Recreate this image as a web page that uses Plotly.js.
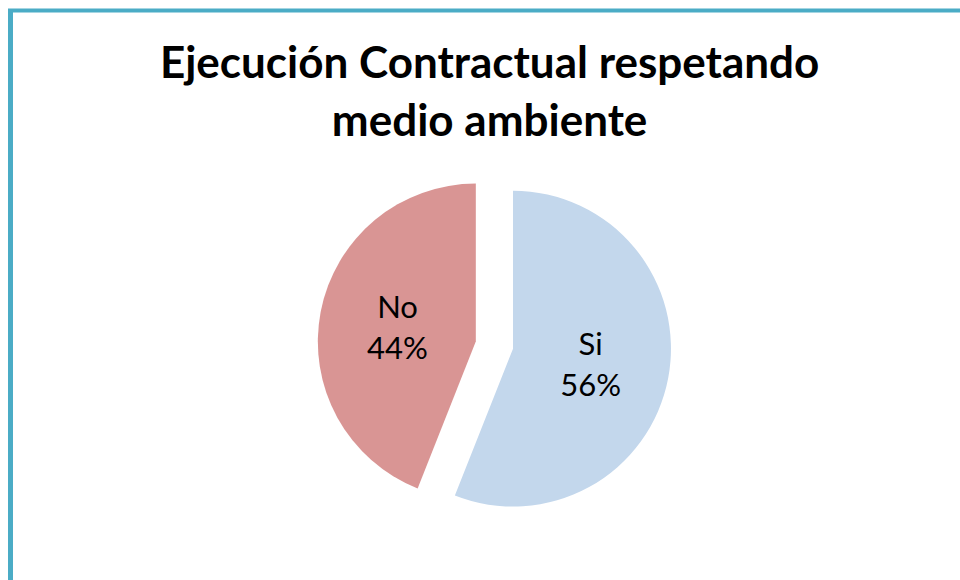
<!DOCTYPE html>
<html>
<head>
<meta charset="utf-8">
<script src="https://cdn.plot.ly/plotly-3.0.1.min.js"></script>
<style>html,body{margin:0;padding:0;background:#fff;}#chart{width:960px;height:580px;}</style>
</head>
<body>
<div id="chart"></div>
<script>
const labels = ["Si", "No"];
const values = [56, 44];
const sliceColors = ["#c3d7ec", "#d99594"];
const titleText = "Ejecución Contractual respetando<br>medio ambiente";

const trace = {
  type: "pie",
  labels: labels,
  values: values,
  sort: false,
  direction: "clockwise",
  rotation: 0,
  pull: [0.12, 0.12],
  marker: { colors: sliceColors, line: { color: "#ffffff", width: 0 } },
  textinfo: "label+percent",
  texttemplate: "%{label}<br>%{percent:.0%}",
  textposition: "inside",
  insidetextorientation: "horizontal",
  textfont: { family: "Lato, 'Open Sans', sans-serif", size: 31, color: "#000000" },
  hoverinfo: "label+percent",
  domain: { x: [0.18, 0.85], y: [0.1, 0.71] },
  showlegend: false
};

const layout = {
  width: 960,
  height: 580,
  margin: { l: 0, r: 0, t: 0, b: 0 },
  paper_bgcolor: "#ffffff",
  title: {
    text: titleText,
    x: 0.51,
    xanchor: "center",
    y: 0.865,
    yanchor: "bottom",
    font: { family: "Lato, 'Open Sans', sans-serif", size: 44, color: "#000000", weight: "bold" }
  },
  showlegend: false,
  shapes: [
    { type: "line", xref: "paper", yref: "paper", x0: 10.5/960, x1: 10.5/960, y0: 0, y1: 1 - 9/580,
      line: { color: "#4bacc6", width: 5 } },
    { type: "line", xref: "paper", yref: "paper", x0: 8/960, x1: 1, y0: 1 - 10.5/580, y1: 1 - 10.5/580,
      line: { color: "#4bacc6", width: 4 } }
  ]
};

Plotly.newPlot("chart", [trace], layout, { displayModeBar: false, staticPlot: true });
</script>
</body>
</html>
